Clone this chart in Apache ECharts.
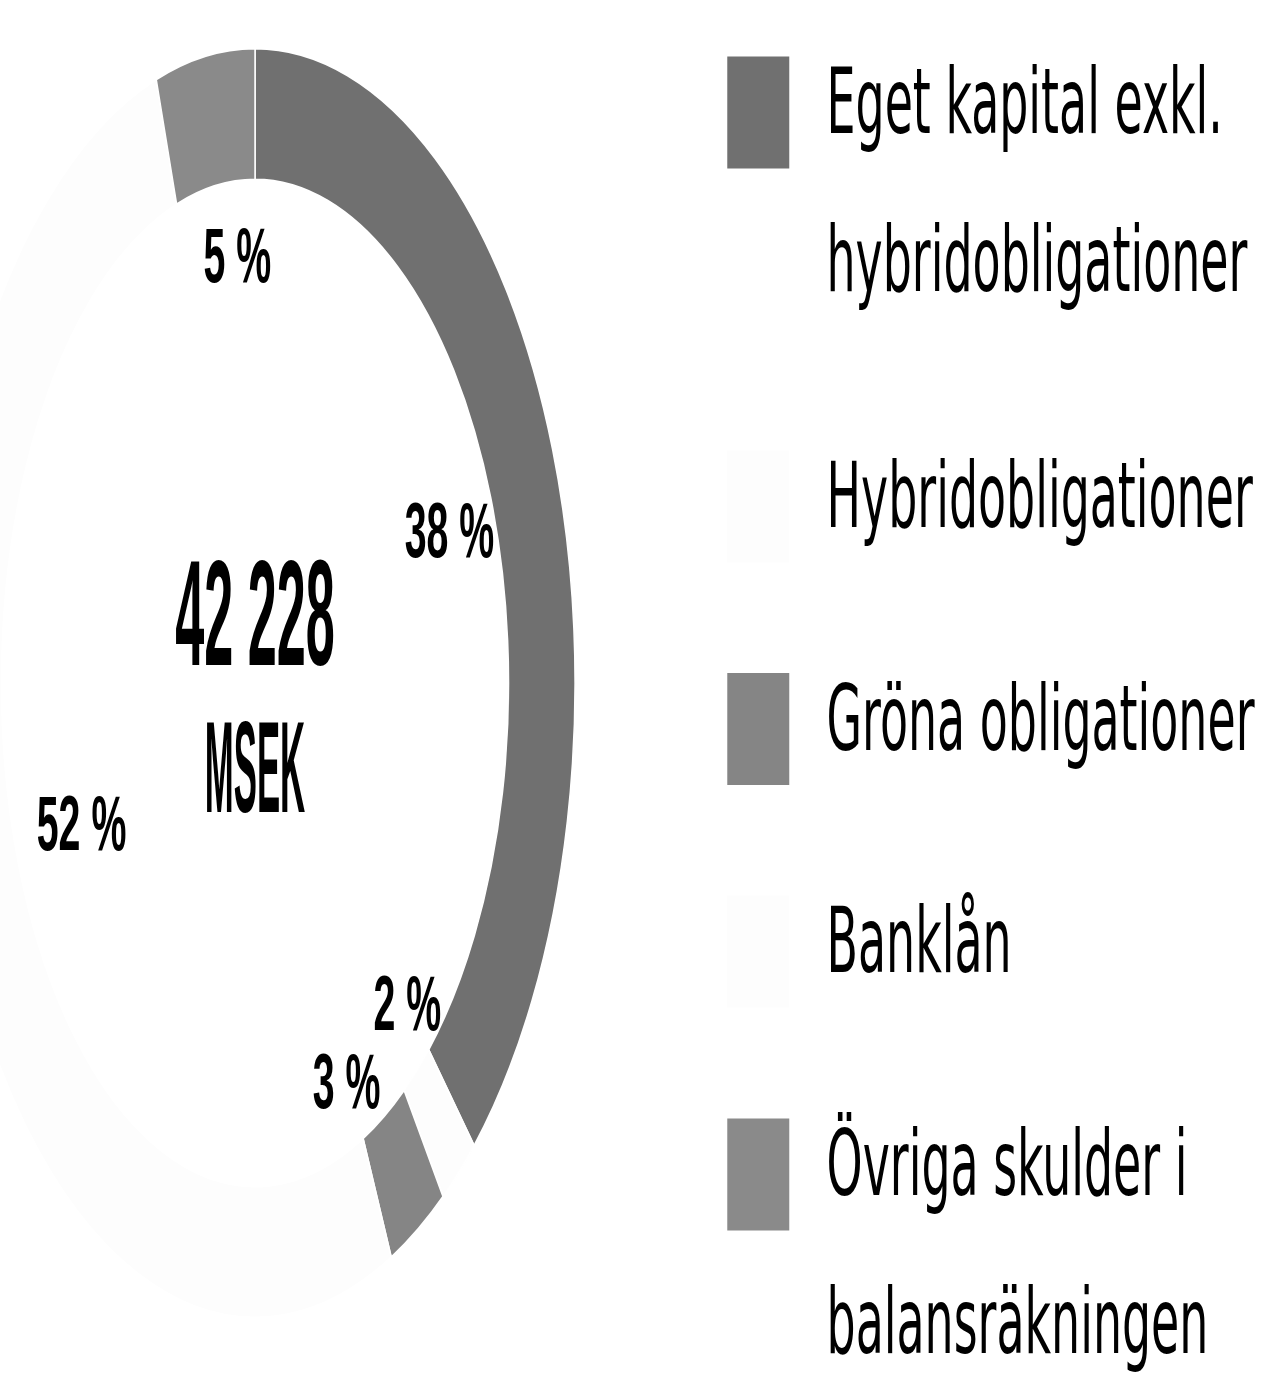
<!DOCTYPE html>
<html lang="sv">
<head>
<meta charset="utf-8">
<title>Finansieringskällor</title>
<script src="https://cdn.jsdelivr.net/npm/echarts@6/dist/echarts.min.js"></script>
<style>
  html, body { margin: 0; padding: 0; background: #ffffff; overflow: hidden; }
  #stage { position: absolute; left: 0; top: 0; width: 1277px; height: 1374px; overflow: hidden; }
  #chart { position: absolute; left: 0; top: 0; transform-origin: 0 0; }
</style>
</head>
<body>
<div id="stage"><div id="chart"></div></div>
<script>
// Finansieringskällor, andel av totalt kapital (%)
const categories = [
  'Eget kapital exkl.\nhybridobligationer',
  'Hybridobligationer',
  'Gröna obligationer',
  'Banklån',
  'Övriga skulder i\nbalansräkningen'
];
const shares = [38, 2, 3, 52, 5];
const totalValue = '42 228';
const totalUnit = 'MSEK';

// Grey tones per category
const sliceColors = ['#707070', '#fdfdfd', '#858585', '#fdfdfd', '#8a8a8a'];

// Small hand placement of the percentage labels (screen px: right, down)
const labelNudge = [[0, 0], [19, 0], [-15, 0], [21, -13], [15, -18]];

// The figure is laid out on a wide canvas and compressed horizontally,
// which gives the tall, narrow look of the ring and the lettering.
const SQUEEZE = 0.504;
const WIDTH = 1277 / SQUEEZE;
const HEIGHT = 1500;               // a little taller than the visible area
const CX = 506, CY = 683;          // ring centre (canvas units)
const R_OUT = 635, R_IN = 503;     // ring radii
const LINE = 158;                  // legend line spacing

const el = document.getElementById('chart');
el.style.width = WIDTH + 'px';
el.style.height = HEIGHT + 'px';
el.style.transform = 'scaleX(' + SQUEEZE + ')';

const chart = echarts.init(el, null, { renderer: 'svg', width: WIDTH, height: HEIGHT });

const sliceData = categories.map((name, i) => ({
  name: name,
  value: shares[i],
  itemStyle: { color: sliceColors[i] }
}));

const legendFont = { fontFamily: 'DejaVu Sans', fontSize: 91, color: '#000000' };
const TEXT_LEFT = 69;

// Legend entries; the first one gets an invisible frame that reserves
// room for its second line before the next entry starts.
const legendItems = categories.map((name, i) => {
  if (i === 0) {
    return {
      name: name,
      textStyle: {
        backgroundColor: 'rgba(255,255,255,0)',
        padding: [58, 0, 80, TEXT_LEFT]
      }
    };
  }
  return { name: name };
});

chart.setOption({
  animation: false,
  backgroundColor: '#ffffff',
  legend: {
    orient: 'vertical',
    left: 1438,
    top: -120,
    itemWidth: 123,
    itemHeight: 112,
    itemGap: 110,
    icon: 'rect',
    selectedMode: false,
    itemStyle: { borderWidth: 0 },
    data: legendItems,
    formatter: function (name) {
      const lines = name.split('\n');
      if (lines.length === 1) return '{s|' + name + '}';
      return '{a|' + lines[0] + '}\n{b|' + lines[1] + '}';
    },
    textStyle: {
      ...legendFont,
      padding: [0, 0, 22, TEXT_LEFT],
      rich: {
        s: { ...legendFont },
        a: { ...legendFont, lineHeight: LINE * 2 },
        b: { ...legendFont, lineHeight: 1 }
      }
    }
  },
  graphic: [
    {
      type: 'text',
      x: CX, y: CY - 70,
      scaleX: 0.69,
      silent: true,
      style: {
        text: totalValue,
        fontFamily: 'Liberation Sans', fontWeight: 'bold', fontSize: 150,
        fill: '#000000', align: 'center', verticalAlign: 'middle'
      }
    },
    {
      type: 'text',
      x: CX, y: CY + 84,
      scaleX: 0.53,
      silent: true,
      style: {
        text: totalUnit,
        fontFamily: 'Liberation Sans', fontWeight: 'bold', fontSize: 130,
        fill: '#000000', align: 'center', verticalAlign: 'middle'
      }
    }
  ],
  series: [
    {
      // the ring
      type: 'pie',
      center: [CX, CY],
      radius: [R_IN, R_OUT],
      startAngle: 90,
      clockwise: true,
      silent: true,
      label: { show: false },
      labelLine: { show: false },
      itemStyle: { borderColor: '#ffffff', borderWidth: 3 },
      emphasis: { disabled: true },
      data: sliceData
    },
    {
      // percentage labels just inside the ring
      type: 'pie',
      center: [CX, CY],
      radius: [392, 432],
      startAngle: 90,
      clockwise: true,
      silent: true,
      legendHoverLink: false,
      itemStyle: { color: 'rgba(0,0,0,0)' },
      emphasis: { disabled: true },
      labelLine: { show: false },
      labelLayout: function (params) {
        const n = labelNudge[params.dataIndex] || [0, 0];
        return {
          dx: n[0] / SQUEEZE,
          dy: n[1],
          hideOverlap: false,
          moveOverlap: 'shiftY'
        };
      },
      label: {
        show: true,
        position: 'inside',
        formatter: '{c} %',
        fontFamily: 'Liberation Sans',
        fontWeight: 'bold',
        fontSize: 78,
        color: '#000000'
      },
      data: categories.map((name, i) => ({ name: name, value: shares[i] }))
    }
  ]
});
</script>
</body>
</html>
